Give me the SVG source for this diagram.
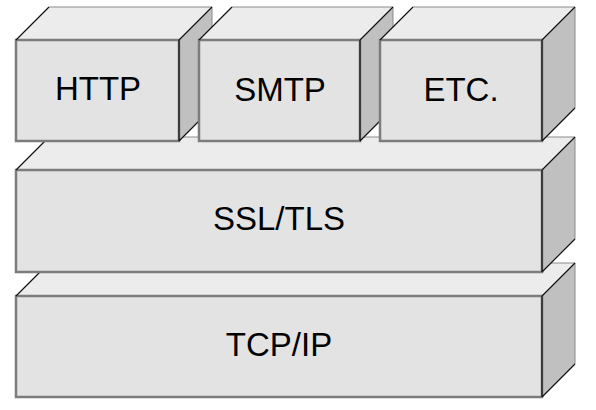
<svg xmlns="http://www.w3.org/2000/svg" width="596" height="410" viewBox="0 0 596 410">
<style>
.top{fill:#ececec;stroke:#8a8a8a;stroke-width:1}
.side{fill:#c0c0c0;stroke:#8a8a8a;stroke-width:1}
.front{fill:#e3e3e3;stroke:#7c7c7c;stroke-width:2.5}
.edge{stroke:#111;stroke-width:1.2;fill:none}
.lbl{font-family:"Liberation Sans",Arial,sans-serif;font-size:33px;fill:#000;text-anchor:middle}
</style>
<rect width="596" height="410" fill="#fff"/>
<g id="tcpip">
<polygon class="top" points="16,296 49,263 575,263 542,296"/>
<polygon class="side" points="542,296 575,263 575,364 542,397"/>
<rect class="front" x="16" y="296" width="526" height="101"/>
<path class="edge" d="M16,296 L49,263 M542,296 L575,263 M542,296 V397 M542,397 L575,364"/>
<text class="lbl" x="279" y="356">TCP/IP</text>
</g>
<g id="ssltls">
<polygon class="top" points="16,170 49,137 575,137 542,170"/>
<polygon class="side" points="542,170 575,137 575,239 542,272"/>
<rect class="front" x="16" y="170" width="526" height="102"/>
<path class="edge" d="M16,170 L49,137 M542,170 L575,137 M542,170 V272 M542,272 L575,239"/>
<text class="lbl" x="279" y="230">SSL/TLS</text>
</g>
<g id="http">
<polygon class="top" points="16,40 49,7 212,7 179,40"/>
<polygon class="side" points="179,40 212,7 212,108 179,141"/>
<rect class="front" x="16" y="40" width="163" height="101"/>
<path class="edge" d="M16,40 L49,7 M179,40 L212,7 M179,40 V141 M179,141 L212,108"/>
<text class="lbl" x="98" y="100">HTTP</text>
</g>
<g id="smtp">
<polygon class="top" points="199,40 232,7 393,7 360,40"/>
<polygon class="side" points="360,40 393,7 393,108 360,141"/>
<rect class="front" x="199" y="40" width="161" height="101"/>
<path class="edge" d="M199,40 L232,7 M360,40 L393,7 M360,40 V141 M360,141 L393,108"/>
<text class="lbl" x="280" y="101">SMTP</text>
</g>
<g id="etc">
<polygon class="top" points="380,40 413,7 575,7 542,40"/>
<polygon class="side" points="542,40 575,7 575,108 542,141"/>
<rect class="front" x="380" y="40" width="162" height="101"/>
<path class="edge" d="M380,40 L413,7 M542,40 L575,7 M542,40 V141 M542,141 L575,108"/>
<text class="lbl" x="461" y="101">ETC.</text>
</g>
<g id="connectors"/>
</svg>
